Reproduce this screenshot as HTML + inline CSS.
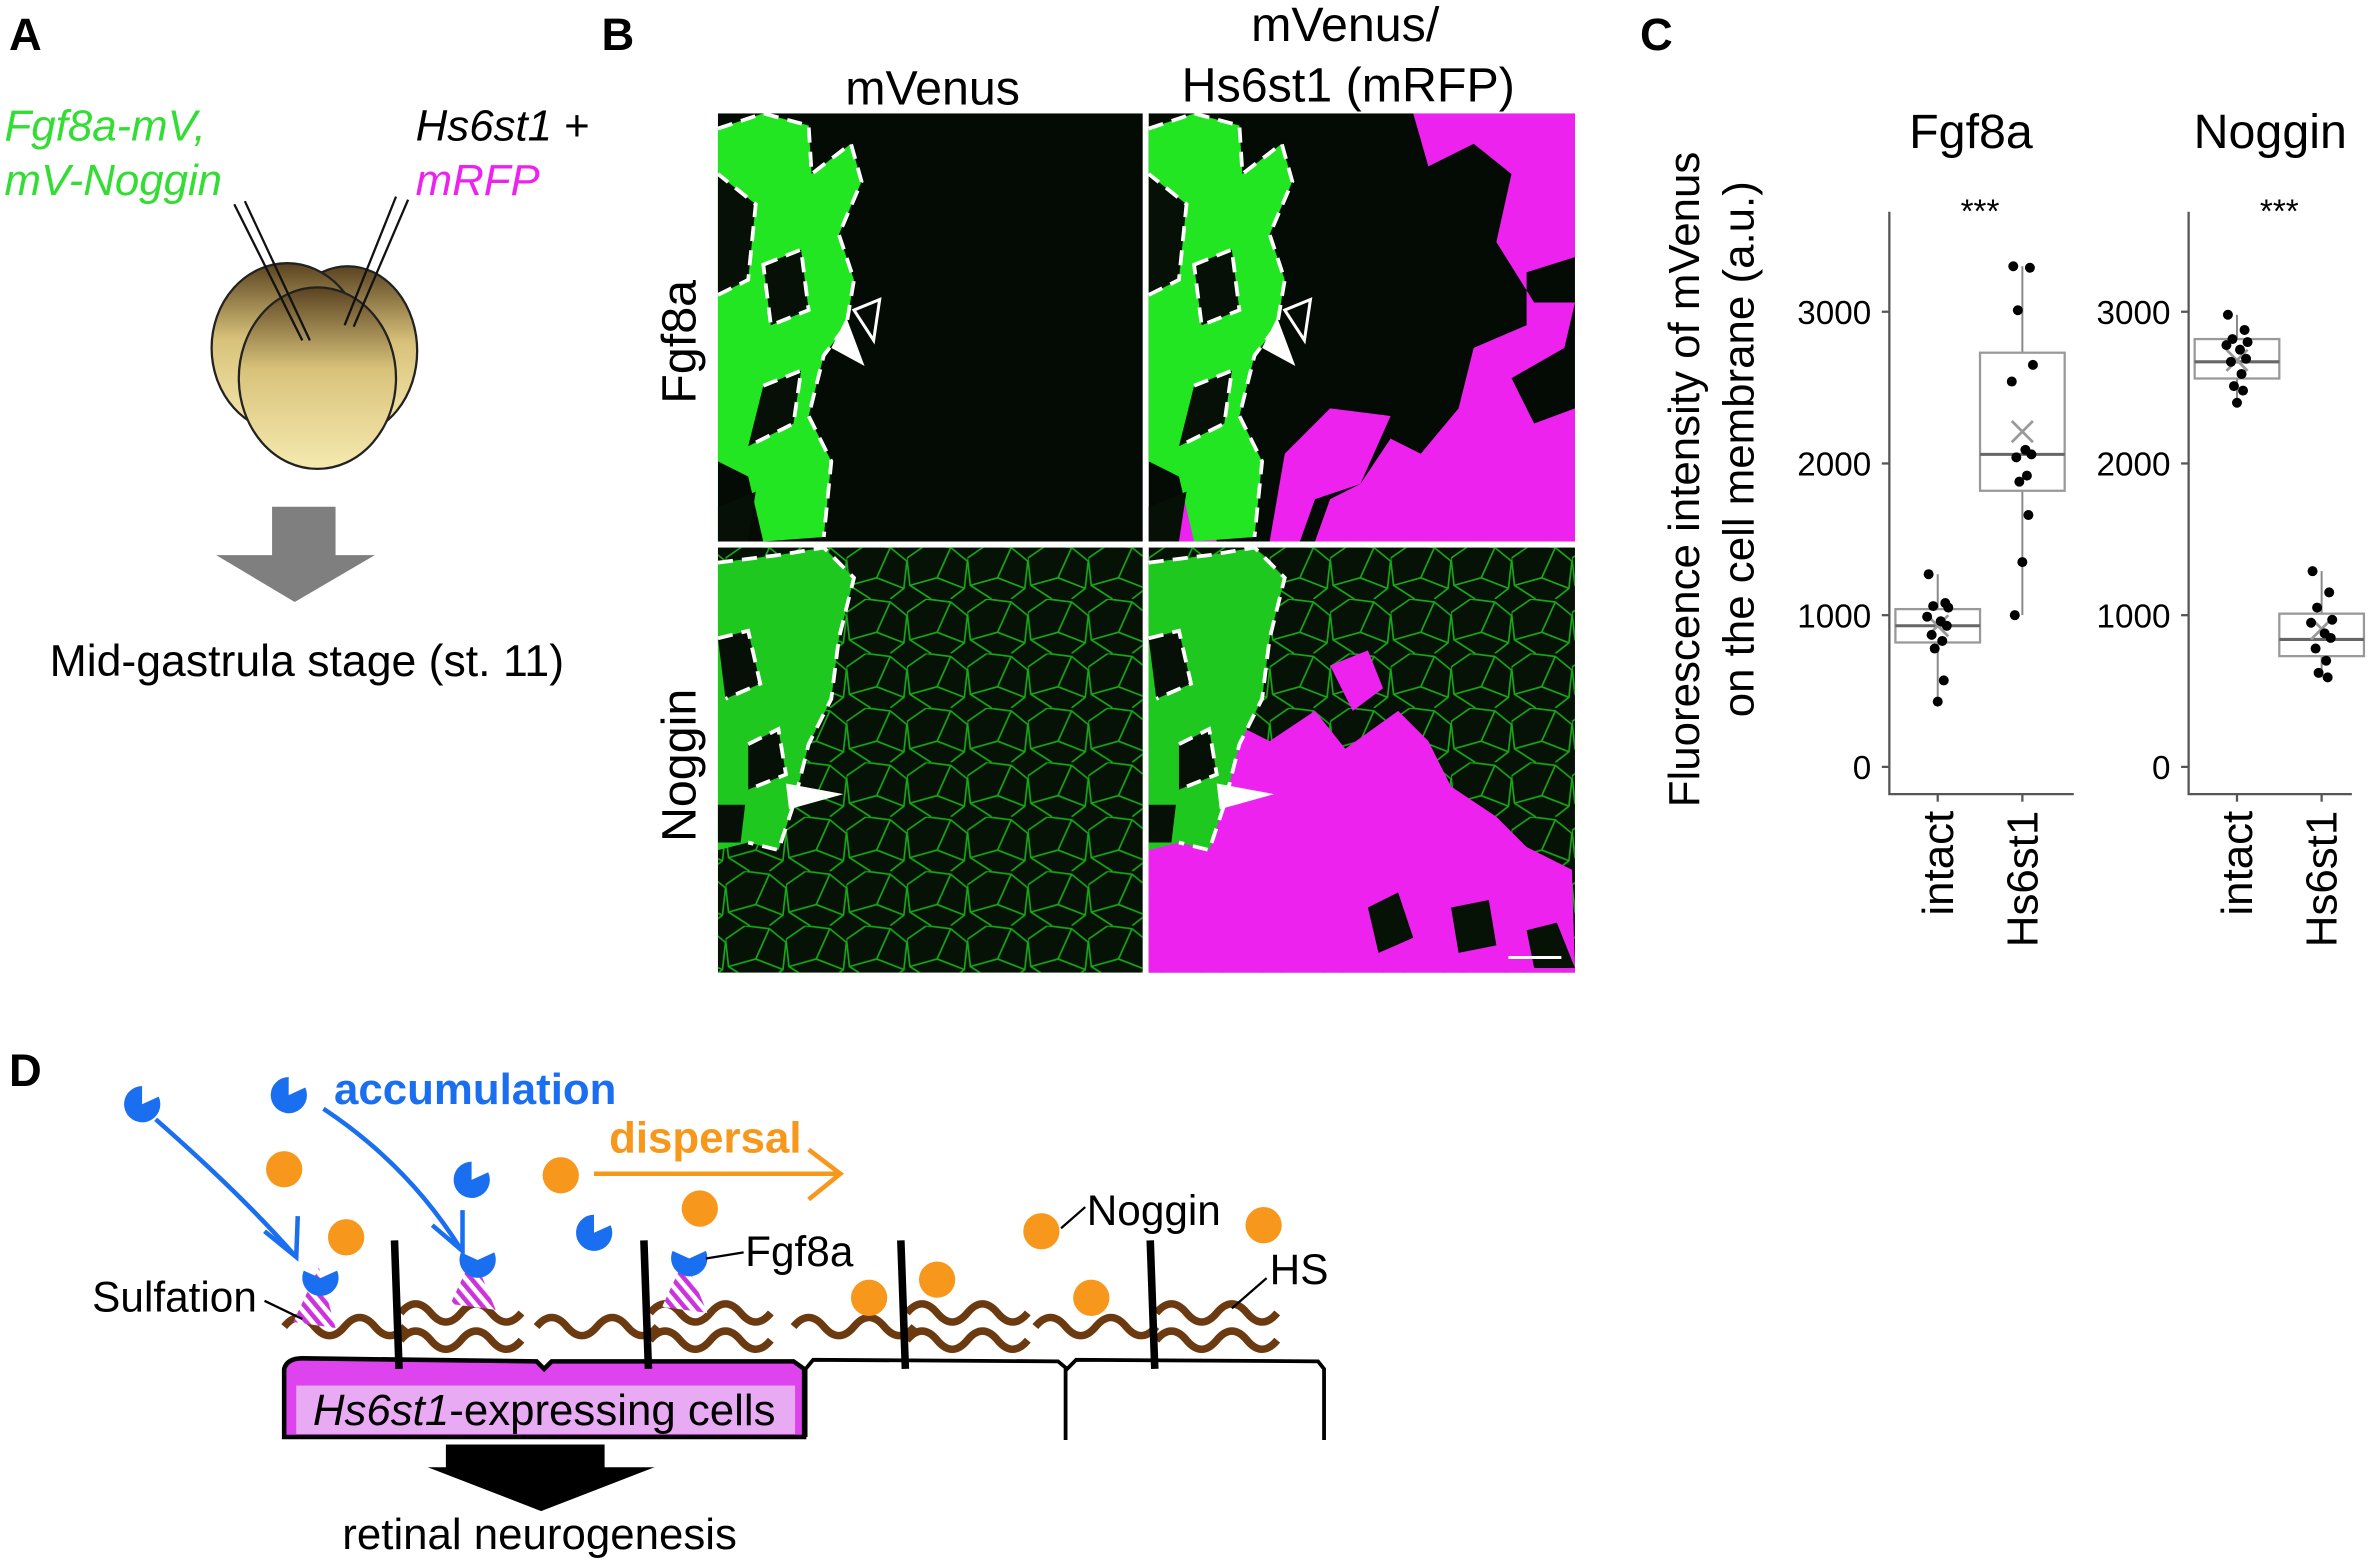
<!DOCTYPE html>
<html><head><meta charset="utf-8"><style>
html,body{margin:0;padding:0;background:#fff;}
svg{display:block;}
text{font-family:"Liberation Sans",Arial,sans-serif;}
</style></head><body>
<svg width="2370" height="1561" viewBox="0 0 1568 1032" preserveAspectRatio="none" xmlns="http://www.w3.org/2000/svg">
<defs>
<pattern id="stripe" width="6" height="6" patternUnits="userSpaceOnUse" patternTransform="rotate(-40)"><rect width="6" height="6" fill="#fff"/><rect width="3" height="6" fill="#cc33dd"/></pattern>
<pattern id="cells" width="40" height="36" patternUnits="userSpaceOnUse"><path d="M0,9 L13,0 L29,2 L40,11 M0,9 L2,27 L16,36 M40,11 L38,29 L29,36 M2,27 L20,22 L38,29 M20,22 L29,2" stroke="#18a818" stroke-width="1.1" fill="none"/></pattern>
<linearGradient id="egg" x1="0" y1="0" x2="0" y2="1"><stop offset="0" stop-color="#5a4320"/><stop offset="0.45" stop-color="#d8c27a"/><stop offset="1" stop-color="#f6eab0"/></linearGradient>
<g id="greenTop">
 <path d="M0,10 L30,0 L60,8 L62,40 L88,20 L95,45 L80,80 L90,110 L85,140 L70,160 L60,200 L75,230 L70,280 L30,283 L20,240 L0,230 Z" fill="#22e622"/>
 <path d="M0,40 L25,60 L20,110 L0,120 Z M30,180 L55,170 L50,205 L20,220 Z M0,260 L25,250 L20,283 L0,283 Z M30,100 L55,90 L60,130 L35,140 Z" fill="#061006"/>
 <path d="M0,10 L30,0 L60,8 L62,40 L88,20 L95,45 L80,80 L90,110 L85,140 L70,160 L60,200 L75,230 L70,280 M0,120 L20,110 L25,60 L0,40 M30,100 L55,90 L60,130 L35,140 Z M30,180 L55,170 L50,205 L20,220" stroke="#fff" stroke-width="2.5" stroke-dasharray="10,6" fill="none"/>
</g>
<g id="greenBot">
 <path d="M0,10 L40,5 L70,0 L90,20 L80,60 L75,100 L60,130 L50,170 L40,200 L20,195 L0,200 Z" fill="#1fc81f"/>
 <path d="M0,60 L20,55 L28,90 L5,100 Z M20,130 L40,120 L45,150 L20,160 Z M0,170 L18,170 L15,195 L0,195 Z" fill="#061006"/>
 <path d="M0,10 L40,5 L70,0 L90,20 L80,60 L75,100 L60,130 L50,170 L40,200 L20,195 M0,60 L20,55 L28,90 L5,100 M20,130 L40,120 L45,150 L20,160" stroke="#fff" stroke-width="2.5" stroke-dasharray="10,6" fill="none"/>
</g>
</defs>

<!-- Panel A -->
<text x="6" y="33" font-size="30" font-weight="bold">A</text>
<text x="3" y="93" font-size="29" font-style="italic" fill="#33dd33">Fgf8a-mV,</text>
<text x="3" y="129" font-size="29" font-style="italic" fill="#33dd33">mV-Noggin</text>
<text x="275" y="93" font-size="29"><tspan font-style="italic">Hs6st1</tspan> +</text>
<text x="275" y="129" font-size="29" font-style="italic" fill="#ee22ee">mRFP</text>
<g stroke="#222" stroke-width="1.5">
 <ellipse cx="230" cy="232" rx="46" ry="56" fill="url(#egg)"/>
 <ellipse cx="190" cy="230" rx="50" ry="56" fill="url(#egg)"/>
 <ellipse cx="210" cy="250" rx="52" ry="60" fill="url(#egg)"/>
</g>
<g stroke="#111" stroke-width="1.5">
 <line x1="155" y1="135" x2="200" y2="225"/><line x1="162" y1="133" x2="205" y2="225"/>
 <line x1="262" y1="130" x2="228" y2="215"/><line x1="270" y1="132" x2="234" y2="216"/>
</g>
<path d="M180,335 L222,335 L222,367 L248,367 L195,398 L143,367 L180,367 Z" fill="#7f7f7f"/>
<text x="203" y="447" font-size="29.5" text-anchor="middle">Mid-gastrula stage (st. 11)</text>

<!-- Panel B -->
<text x="398" y="33" font-size="30" font-weight="bold">B</text>
<text x="617" y="69" font-size="32" text-anchor="middle">mVenus</text>
<text x="890" y="27" font-size="32" text-anchor="middle">mVenus/</text>
<text x="892" y="67" font-size="32" text-anchor="middle">Hs6st1 (mRFP)</text>
<text transform="translate(460,226) rotate(-90)" font-size="32" text-anchor="middle">Fgf8a</text>
<text transform="translate(460,506) rotate(-90)" font-size="32" text-anchor="middle">Noggin</text>
<g>
 <rect x="475" y="75" width="281" height="283" fill="#040a04"/>
 <use href="#greenTop" x="475" y="75"/>
 <path d="M550,230 L560,210 L572,242 Z" fill="#fff"/><path d="M565,205 L582,198 L578,225 Z" fill="none" stroke="#fff" stroke-width="2"/>
</g>
<g>
 <rect x="760" y="75" width="282" height="283" fill="#040a04"/>
 <path d="M935,75 L1042,75 L1042,170 L1010,180 L1010,215 L975,230 L965,270 L940,300 L920,290 L900,320 L880,330 L870,358 L1042,358 L1042,270 L1015,280 L1000,250 L1035,230 L1042,200 L1015,200 L990,160 L1000,115 L975,95 L945,110 Z" fill="#ee22ee"/>
 <path d="M850,300 L880,270 L920,275 L900,320 L870,330 L860,358 L840,358 Z" fill="#ee22ee"/>
 <path d="M760,230 L790,225 L800,260 L775,280 L760,275 Z M760,335 L800,330 L805,358 L760,358 Z" fill="#ee22ee"/>
 <use href="#greenTop" x="760" y="75"/>
 <path d="M835,230 L845,210 L857,242 Z" fill="#fff"/><path d="M850,205 L867,198 L863,225 Z" fill="none" stroke="#fff" stroke-width="2"/>
</g>
<g>
 <rect x="475" y="362" width="281" height="281" fill="#061206"/>
 <rect x="475" y="362" width="281" height="281" fill="url(#cells)"/>
 <use href="#greenBot" x="475" y="362"/>
 <path d="M520,518 L558,525 L522,535 Z" fill="#fff"/>
</g>
<g>
 <rect x="760" y="362" width="282" height="281" fill="#061206"/>
 <rect x="760" y="362" width="282" height="281" fill="url(#cells)"/>
 <path d="M760,500 L800,470 L840,490 L870,470 L890,495 L925,470 L945,490 L960,520 L990,540 L1010,560 L1040,575 L1042,643 L760,643 Z" fill="#ee22ee"/>
 <path d="M880,440 L905,430 L915,455 L895,470 Z M935,540 L960,530 L975,560 L950,570 Z M1000,580 L1020,570 L1030,600 L1005,605 Z" fill="#ee22ee"/>
 <path d="M905,600 L925,590 L935,620 L912,630 Z M960,600 L985,595 L990,625 L965,630 Z M1010,615 L1030,610 L1042,640 L1015,640 Z" fill="#061206"/>
 <use href="#greenBot" x="760" y="362"/>
 <path d="M805,518 L843,525 L807,535 Z" fill="#fff"/>
 <line x1="998" y1="633" x2="1033" y2="633" stroke="#fff" stroke-width="2"/>
</g>

<!-- Panel C -->
<text x="1085" y="33" font-size="30" font-weight="bold">C</text>
<text transform="translate(1124,317) rotate(-90)" font-size="29" text-anchor="middle">Fluorescence intensity of mVenus</text>
<text transform="translate(1160,297) rotate(-90)" font-size="29" text-anchor="middle">on the cell membrane (a.u.)</text>
<g id="chart"></g>

<!-- Panel D -->
<text x="6" y="718" font-size="30" font-weight="bold">D</text>
<text x="221" y="730" font-size="29" font-weight="bold" fill="#1a6ff0">accumulation</text>
<text x="403" y="762" font-size="29" font-weight="bold" fill="#f7981d">dispersal</text>
<g stroke="#f7981d" stroke-width="3" fill="none"><line x1="393" y1="776" x2="556" y2="776"/><polyline points="535,760 556,776 535,793"/></g>
<g stroke="#1a6ff0" stroke-width="3" fill="none">
 <path d="M103,740 Q160,790 195,830"/><polyline points="175,814 196,831 197,804"/>
 <path d="M214,733 Q270,770 305,826"/><polyline points="286,810 306,827 306,800"/>
</g>
<g>
 <path d="M188,950 L188,905 Q190,898 200,898 L355,900 L360,905 L365,900 L525,900 L532,905 L532,950 Z" fill="#dd44ee" stroke="#000" stroke-width="3"/>
 <rect x="196" y="916" width="330" height="32" fill="#e8aaf2"/>
 <path d="M533,950 L533,905 L538,899 L700,900 L706,905 L712,899 L872,900 L876,905 L876,952 M705,905 L705,952" fill="none" stroke="#000" stroke-width="2.5"/>
</g>
<text x="207" y="942" font-size="29"><tspan font-style="italic">Hs6st1</tspan>-expressing cells</text>
<g stroke="#6b3a10" stroke-width="5" fill="none">
 <path d="M188,877 q10,-12 20,0 t20,0 t20,0 t20,0 M265,868 q10,-12 20,0 t20,0 t20,0 t20,0 M265,886 q10,-12 20,0 t20,0 t20,0 t20,0"/>
 <path d="M355,877 q10,-12 20,0 t20,0 t20,0 t20,0 M430,868 q10,-12 20,0 t20,0 t20,0 t20,0 M430,886 q10,-12 20,0 t20,0 t20,0 t20,0"/>
 <path d="M525,877 q10,-12 20,0 t20,0 t20,0 t20,0 M600,868 q10,-12 20,0 t20,0 t20,0 t20,0 M600,886 q10,-12 20,0 t20,0 t20,0 t20,0"/>
 <path d="M685,877 q10,-12 20,0 t20,0 t20,0 t20,0 M765,868 q10,-12 20,0 t20,0 t20,0 t20,0 M765,886 q10,-12 20,0 t20,0 t20,0 t20,0"/>
</g>
<g stroke="#000" stroke-width="5"><line x1="261" y1="820" x2="264" y2="905"/><line x1="426" y1="820" x2="429" y2="905"/><line x1="596" y1="820" x2="599" y2="905"/><line x1="761" y1="820" x2="764" y2="905"/></g>
<g fill="url(#stripe)"><path d="M211,838 L222,878 L194,874 Z"/><path d="M313,830 L328,866 L298,862 Z"/><path d="M453,832 L468,868 L438,864 Z"/></g>
<g fill="#f7981d">
 <circle cx="188" cy="773" r="12"/><circle cx="229" cy="818" r="12"/><circle cx="371" cy="777" r="12"/><circle cx="463" cy="799" r="12"/><circle cx="575" cy="858" r="12"/><circle cx="620" cy="846" r="12"/><circle cx="689" cy="814" r="12"/><circle cx="836" cy="810" r="12"/><circle cx="722" cy="858" r="12"/>
</g>
<g fill="#1a6ff0">
 <path d="M94,730 m0,-12 a12,12 0 1 0 11,7 l-11,5 z"/><path d="M191,724 m0,-12 a12,12 0 1 0 11,7 l-11,5 z"/><path d="M312,780 m0,-12 a12,12 0 1 0 11,7 l-11,5 z"/><path d="M393,815 m0,-12 a12,12 0 1 0 11,7 l-11,5 z"/>
 <path d="M316,833 m-11,-5 a12,12 0 1 0 22,0 l-11,5 z"/><path d="M212,845 m-11,-5 a12,12 0 1 0 22,0 l-11,5 z"/><path d="M456,832 m-11,-5 a12,12 0 1 0 22,0 l-11,5 z"/>
</g>
<g stroke="#000" stroke-width="1.5"><line x1="175" y1="860" x2="200" y2="872"/><line x1="467" y1="832" x2="492" y2="828"/><line x1="702" y1="812" x2="718" y2="798"/><line x1="815" y1="865" x2="838" y2="845"/></g>
<text x="61" y="867" font-size="28">Sulfation</text>
<text x="493" y="837" font-size="28">Fgf8a</text>
<text x="719" y="810" font-size="28">Noggin</text>
<text x="840" y="849" font-size="28">HS</text>
<path d="M295,955 L400,955 L400,970 L433,970 L358,999 L283,970 L295,970 Z" fill="#000"/>
<text x="357" y="1024" font-size="29" text-anchor="middle">retinal neurogenesis</text>

<script>
const categories = ["intact", "Hs6st1"];
const panelTitles = ["Fgf8a", "Noggin"];
const yTicks = [0, 1000, 2000, 3000];
const fgfIntact = [1270, 1080, 1060, 1050, 990, 960, 930, 870, 830, 780, 570, 430];
const fgfHs = [3300, 3290, 3010, 2650, 2540, 2090, 2060, 2040, 1920, 1880, 1660, 1350, 1000];
const nogIntact = [2980, 2880, 2820, 2800, 2780, 2750, 2690, 2670, 2590, 2510, 2480, 2400];
const nogHs = [1290, 1150, 1050, 970, 950, 880, 850, 780, 700, 620, 590];
const fgfIntactBox = [430, 820, 930, 1040, 1270, 930];
const fgfHsBox = [1000, 1820, 2060, 2730, 3300, 2210];
const nogIntactBox = [2400, 2560, 2670, 2820, 2980, 2680];
const nogHsBox = [590, 730, 840, 1010, 1290, 910];

const NS = "http://www.w3.org/2000/svg";
const chart = document.getElementById("chart");
function el(tag, attrs, parent) { const e = document.createElementNS(NS, tag); for (const k in attrs) e.setAttribute(k, attrs[k]); (parent || chart).appendChild(e); return e; }
function yScale(v) { return 507 - v * 0.1003; }
const panels = [
  { x0: 1250, xr: 1372, series: [fgfIntact, fgfHs], boxes: [fgfIntactBox, fgfHsBox] },
  { x0: 1448, xr: 1556, series: [nogIntact, nogHs], boxes: [nogIntactBox, nogHsBox] }
];
panels.forEach((p, pi) => {
  const xScale = i => p.x0 + 32 + i * 56;
  const g = el("g", {});
  
  
  const t = el("text", { x: p.x0 + 54, y: 98, "font-size": 32, "text-anchor": "middle" }, g);
  t.textContent = panelTitles[pi];
  
  
  const s = el("text", { x: p.x0 + 60, y: 147, "font-size": 22, "text-anchor": "middle" }, g);
  s.textContent = "***";
  
  
  const ax = el("path", { d: `M${p.x0},140 L${p.x0},525 L${p.xr},525`, stroke: "#555", "stroke-width": 1.5, fill: "none" }, g);
  
  
  yTicks.forEach(v => {
    const y = yScale(v);
    const tk = el("line", { x1: p.x0 - 5, x2: p.x0, y1: y, y2: y, stroke: "#555", "stroke-width": 1.5 }, g);
    
    
    const tl = el("text", { x: p.x0 - 12, y: y + 8, "font-size": 22, "text-anchor": "end" }, g);
    tl.textContent = v;
    
    
  });
  categories.forEach((c, i) => {
    const x = xScale(i);
    const tk = el("line", { x1: x, x2: x, y1: 525, y2: 530, stroke: "#555", "stroke-width": 1.5 }, g);
    
    
    const xl = el("text", { transform: `translate(${x + 10},536) rotate(-90)`, "font-size": 29, "text-anchor": "end" }, g);
    xl.textContent = c;
    
    
    const b = p.boxes[i];
    const wh = el("line", { x1: x, x2: x, y1: yScale(b[0]), y2: yScale(b[4]), stroke: "#888", "stroke-width": 1.3 }, g);
    
    
    const bx = el("rect", { x: x - 28, y: yScale(b[3]), width: 56, height: yScale(b[1]) - yScale(b[3]), fill: "#fff", stroke: "#999", "stroke-width": 1.5 }, g);
    
    
    const md = el("line", { x1: x - 28, x2: x + 28, y1: yScale(b[2]), y2: yScale(b[2]), stroke: "#666", "stroke-width": 2 }, g);
    
    
    const my = yScale(b[5]);
    const mn = el("path", { d: `M${x - 7},${my - 7} L${x + 7},${my + 7} M${x - 7},${my + 7} L${x + 7},${my - 7}`, stroke: "#999", "stroke-width": 1.8 }, g);
    
    
    p.series[i].forEach((v, j) => {
      const jitter = [-6, 5, -3, 7, -7, 2, 6, -4, 3, -2, 4, 0, -5][j % 13];
      const pt = el("circle", { cx: x + jitter, cy: yScale(v), r: 3.3, fill: "#000" }, g);
      
      
    });
  });
});
</script>
</svg>
</body></html>
